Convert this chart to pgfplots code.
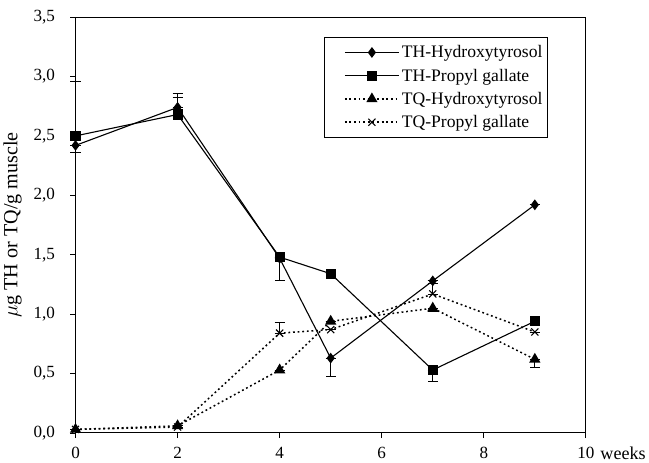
\documentclass[border=0pt]{standalone}
\usepackage{pgfplots}
\pgfplotsset{compat=1.18}
\usepackage{fontspec}
\setmainfont{Liberation Serif}
\begin{document}
\begin{tikzpicture}
\begin{axis}[
  scale only axis,
  clip=false,
  width=508pt, height=414pt,
  xmin=0, xmax=10, ymin=0, ymax=3.5,
  xtick={0,2,4,6,8,10},
  xticklabels={0,2,4,6,8,10},
  ytick={0,0.5,...,3.5},
  yticklabel={\pgfmathprintnumber[fixed, fixed zerofill, precision=1, use comma]{\tick}},
  /pgf/number format/assume math mode=true,
  tick align=outside,
  tick pos=left,
  major tick length=5pt,
  tick label style={font=\fontsize{17}{20}\selectfont},
  xticklabel style={yshift=-6pt},
  yticklabel style={xshift=-12pt},
  ylabel={$\mu$g TH or TQ/g muscle},
  ylabel style={font=\fontsize{20}{24}\selectfont, yshift=5pt},
  xlabel={weeks},
  xlabel style={font=\fontsize{18}{22}\selectfont, at={(axis description cs:1,0)}, anchor=north west, yshift=-10pt, xshift=11pt},
  axis line style={line width=1pt},
  every tick/.style={black, line width=0.8pt},
  legend style={at={(axis cs:4.86,3.33)}, anchor=north west, draw=black, line width=0.6pt,
    font=\fontsize{17.5}{21}\selectfont, row sep=5.5pt, inner xsep=3pt, inner ysep=6pt},
  legend cell align=left,
  legend image code/.code={
    \path (-0.6cm,0cm);
    \draw[#1, mark repeat=2, mark phase=2] plot coordinates {(0cm,0cm) (0.95cm,0cm) (1.9cm,0cm)};
  },
  error bars/error bar style={line width=0.8pt, black, solid},
  error bars/error mark options={rotate=90, mark size=5pt, line width=0.8pt, solid},
]
\addplot[black, line width=1.1pt, mark=diamond*, mark size=4.5pt, mark options={solid},
  error bars/.cd, y dir=both, y explicit]
  coordinates {
  (0,2.42) += (0,0) -= (0,0.06)
  (2,2.74) += (0,0.12) -= (0,0)
  (4,1.47) += (0,0) -= (0,0.19)
  (5,0.63) += (0,0) -= (0,0.15)
  (7,1.28) += (0,0) -= (0,0)
  (9,1.92) += (0,0) -= (0,0)
  };
\addlegendentry{TH-Hydroxytyrosol}
\addplot[black, line width=1.1pt, mark=square*, mark size=4.5pt, mark options={solid},
  error bars/.cd, y dir=both, y explicit]
  coordinates {
  (0,2.50) += (0,0.46) -= (0,0)
  (2,2.68) += (0,0.14) -= (0,0)
  (4,1.48) += (0,0) -= (0,0)
  (5,1.34) += (0,0) -= (0,0)
  (7,0.53) += (0,0) -= (0,0.10)
  (9,0.94) += (0,0) -= (0,0)
  };
\addlegendentry{TH-Propyl gallate}
\addplot[black, line width=1.5pt, dash pattern=on 1.8pt off 2.8pt, mark=triangle*, mark size=5pt, mark options={solid},
  error bars/.cd, y dir=both, y explicit]
  coordinates {
  (0,0.03) += (0,0) -= (0,0)
  (2,0.06) += (0,0) -= (0,0)
  (4,0.53) += (0,0) -= (0,0)
  (5,0.94) += (0,0) -= (0,0)
  (7,1.05) += (0,0) -= (0,0.03)
  (9,0.62) += (0,0) -= (0,0.07)
  };
\addlegendentry{TQ-Hydroxytyrosol}
\addplot[black, line width=1.5pt, dash pattern=on 1.8pt off 2.8pt, mark=x, mark size=5pt, mark options={solid, line width=1.1pt},
  error bars/.cd, y dir=both, y explicit]
  coordinates {
  (0,0.03) += (0,0) -= (0,0)
  (2,0.05) += (0,0) -= (0,0)
  (4,0.84) += (0,0.09) -= (0,0)
  (5,0.87) += (0,0) -= (0,0)
  (7,1.17) += (0,0.09) -= (0,0)
  (9,0.85) += (0,0) -= (0,0)
  };
\addlegendentry{TQ-Propyl gallate}
\path (rel axis cs:0,1) ++(0pt,17pt);
\end{axis}
\end{tikzpicture}
\end{document}
